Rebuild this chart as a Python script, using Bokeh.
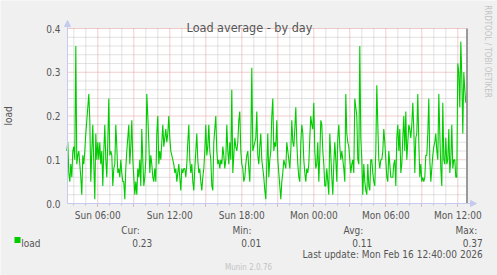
import math
from bokeh.plotting import figure
from bokeh.models import Range1d, FixedTicker, Label, Arrow, NormalHead, LinearAxis
from bokeh.embed import file_html
from bokeh.resources import INLINE

# ---------------- data (5-minute load averages) ----------------
load_sun_night = [0.12, 0.14, 0.07, 0.05, 0.09, 0.06, 0.12, 0.13, 0.10, 0.36,
                  0.09, 0.11, 0.12, 0.09, 0.06, 0.02, 0.11, 0.09, 0.12, 0.16,
                  0.19, 0.22, 0.25, 0.19, 0.05, 0.12, 0.18, 0.09, 0.01, 0.16,
                  0.10, 0.14, 0.10, 0.14, 0.09, 0.12, 0.04, 0.12, 0.18, 0.10,
                  0.06, 0.14, 0.24, 0.11, 0.12, 0.11, 0.04, 0.08, 0.09, 0.18,
                  0.13, 0.07, 0.08, 0.06, 0.10, 0.07, 0.05, 0.05, 0.01, 0.08,
                  0.12, 0.15, 0.18, 0.09, 0.13, 0.19, 0.10, 0.06, 0.02, 0.05,
                  0.02, 0.08, 0.06, 0.10, 0.04, 0.17, 0.10, 0.04, 0.06, 0.10,
                  0.25, 0.20]
load_sun_day = [0.14, 0.07, 0.11, 0.09, 0.06, 0.05, 0.08, 0.05, 0.16, 0.20,
                0.09, 0.12, 0.10, 0.14, 0.18, 0.13, 0.15, 0.17, 0.14, 0.16,
                0.20, 0.15, 0.12, 0.11, 0.10, 0.09, 0.07, 0.08, 0.05, 0.07,
                0.09, 0.06, 0.03, 0.08, 0.07, 0.08, 0.08, 0.06, 0.09, 0.14,
                0.18, 0.10, 0.07, 0.09, 0.05, 0.03, 0.08, 0.12, 0.16, 0.10,
                0.07, 0.08, 0.05, 0.03, 0.06, 0.08, 0.12, 0.18, 0.11, 0.13,
                0.18, 0.12, 0.10, 0.04, 0.03, 0.14, 0.17, 0.20, 0.12, 0.09,
                0.10, 0.08, 0.10, 0.09, 0.13, 0.11, 0.08, 0.10, 0.18, 0.12,
                0.09, 0.14]
load_sun_evening = [0.10, 0.26, 0.07, 0.11, 0.15, 0.13, 0.12, 0.14, 0.19, 0.21,
                    0.12, 0.09, 0.08, 0.05, 0.06, 0.09, 0.11, 0.12, 0.08, 0.05,
                    0.14, 0.31, 0.12, 0.13, 0.14, 0.15, 0.21, 0.11, 0.09, 0.13,
                    0.16, 0.10, 0.08, 0.06, 0.03, 0.01, 0.09, 0.16, 0.06, 0.10,
                    0.12, 0.20, 0.24, 0.12, 0.14, 0.13, 0.19, 0.10, 0.07, 0.04,
                    0.01, 0.05, 0.07, 0.10, 0.09, 0.08, 0.14, 0.12, 0.10, 0.08,
                    0.12, 0.19, 0.14, 0.13, 0.17, 0.22, 0.14, 0.09, 0.06, 0.05,
                    0.14, 0.18, 0.16, 0.10, 0.07, 0.05, 0.08, 0.07, 0.09, 0.15,
                    0.20, 0.18]
load_mon_night = [0.17, 0.23, 0.12, 0.08, 0.09, 0.14, 0.05, 0.11, 0.19, 0.18,
                  0.12, 0.09, 0.04, 0.04, 0.08, 0.05, 0.02, 0.16, 0.11, 0.06,
                  0.02, 0.09, 0.14, 0.10, 0.05, 0.15, 0.18, 0.13, 0.10, 0.12,
                  0.10, 0.08, 0.05, 0.25, 0.16, 0.14, 0.13, 0.10, 0.07, 0.09,
                  0.10, 0.07, 0.24, 0.22, 0.20, 0.10, 0.09, 0.36, 0.15, 0.10,
                  0.02, 0.09, 0.05, 0.03, 0.02, 0.09, 0.04, 0.03, 0.10, 0.10,
                  0.07, 0.05, 0.04, 0.12, 0.27, 0.18, 0.10, 0.08, 0.10, 0.10,
                  0.12, 0.17, 0.14, 0.10, 0.06, 0.05, 0.12, 0.09, 0.06, 0.06,
                  0.06, 0.09]
load_mon_morning = [0.10, 0.04, 0.15, 0.18, 0.12, 0.17, 0.07, 0.09, 0.15, 0.20,
                    0.12, 0.21, 0.10, 0.14, 0.18, 0.17, 0.15, 0.18, 0.23, 0.17,
                    0.07, 0.15, 0.16, 0.25, 0.14, 0.06, 0.09, 0.05, 0.06, 0.05,
                    0.06, 0.11, 0.11, 0.16, 0.24, 0.10, 0.05, 0.08, 0.11, 0.13,
                    0.14, 0.16, 0.12, 0.10, 0.25, 0.16, 0.08, 0.04, 0.23, 0.10,
                    0.09, 0.15, 0.09, 0.10, 0.17, 0.07, 0.10, 0.18, 0.08, 0.10,
                    0.10, 0.06, 0.06, 0.32, 0.30, 0.22, 0.37, 0.29, 0.16, 0.30,
                    0.26, 0.23]

step_minutes = 5
last_update_hour = 36 + 40 / 60          # Mon 12:40 in hours since Sun 00:00

x_tick_hours = [6, 12, 18, 24, 30, 36]
x_tick_labels = ["Sun 06:00", "Sun 12:00", "Sun 18:00", "Mon 00:00", "Mon 06:00", "Mon 12:00"]
y_tick_values = [0.0, 0.1, 0.2, 0.3, 0.4]
y_tick_labels = ["0.0", "0.1", "0.2", "0.3", "0.4"]

series_name = "load"
stat_names = ["Cur:", "Min:", "Avg:", "Max:"]
stat_values = ["0.23", "0.01", "0.11", "0.37"]
title_text = "Load average - by day"
y_label_text = "load"
last_update_text = "Last update: Mon Feb 16 12:40:00 2026"
footer_text = "Munin 2.0.76"
side_text = "RRDTOOL / TOBI OETIKER"

load = load_sun_night + load_sun_day + load_sun_evening + load_mon_night + load_mon_morning
n = len(load)
hours = [last_update_hour - step_minutes / 60 * (n - 1 - i) for i in range(n)]

# ---------------- layout ----------------
W, H = 497, 275
FL, FT, FW, FH = 67, 28, 400, 175          # plotting area inside the canvas
PX_PER_HOUR = 12.0
X0 = 6 - (97.3 - FL) / PX_PER_HOUR         # hour at left edge of plotting area
X1 = X0 + FW / PX_PER_HOUR
Y0, Y1 = 0.0, 0.4

def dx(px):
    return X0 + (px - FL) / PX_PER_HOUR

def dy(py):
    return Y0 + (FT + FH - py) * (Y1 - Y0) / FH

FONT = "DejaVu Sans Condensed"
TXT = "#555555"
LIGHT = "#C4C4C4"
AXIS = "#C6CAF0"
MGRID = "#E29C9C"
GRID = "#C4C4C4"
GREEN = "#00CC00"

# the frame covers the whole canvas; ranges are extended so the data area sits where munin puts it
p = figure(width=W, height=H, output_backend="svg", toolbar_location=None, title=None,
           x_range=Range1d(dx(0), dx(W)), y_range=Range1d(dy(H), dy(0)),
           x_axis_location=None, y_axis_location=None,
           min_border=0, min_border_left=0, min_border_right=0,
           min_border_top=0, min_border_bottom=0,
           background_fill_color="#F0F0F0", border_fill_color="#F0F0F0",
           outline_line_color=None)
for g in p.grid:
    g.visible = False

# white canvas
p.quad(left=[X0], right=[X1], bottom=[Y0], top=[Y1], fill_color="#FFFFFF", line_color=None)

# grids (drawn only inside the data area)
minor_y = [round(0.02 * k, 2) for k in range(1, 20) if k % 5 != 0]
major_y = [0.1, 0.2, 0.3, 0.4]
minor_x = [h for h in range(4, 37) if h % 3 != 0]
major_x = [h for h in range(6, 37, 3)]
p.segment(x0=[X0] * len(minor_y), x1=[X1] * len(minor_y), y0=minor_y, y1=minor_y,
          line_color=GRID, line_width=1, line_dash="1 1")
p.segment(x0=minor_x, x1=minor_x, y0=[Y0] * len(minor_x), y1=[Y1] * len(minor_x),
          line_color=GRID, line_width=1, line_dash="1 1")
p.segment(x0=[X0] * len(major_y), x1=[X1] * len(major_y), y0=major_y, y1=major_y,
          line_color=MGRID, line_width=1, line_dash="1 1")
p.segment(x0=major_x, x1=major_x, y0=[Y0] * len(major_x), y1=[Y1] * len(major_x),
          line_color=MGRID, line_width=1, line_dash="1 1")

# x axis at load = 0
xa = LinearAxis(fixed_location=Y0, bounds=(X0, X1))
xa.ticker = FixedTicker(ticks=major_x, minor_ticks=list(range(4, 37)))
overrides = {h: "" for h in major_x}
for h, lab_ in zip(x_tick_hours, x_tick_labels):
    overrides[h] = lab_
xa.major_label_overrides = overrides
xa.axis_line_color = None
xa.major_tick_line_color = MGRID
xa.major_tick_in = 0
xa.major_tick_out = 3
xa.minor_tick_line_color = GRID
xa.minor_tick_in = 0
xa.minor_tick_out = 2
xa.major_label_standoff = 3
xa.major_label_text_font = FONT
xa.major_label_text_font_size = "10px"
xa.major_label_text_color = TXT
p.add_layout(xa, "below")

# y axis at the left edge of the data area
ya = LinearAxis(fixed_location=X0, bounds=(Y0, Y1))
ya.ticker = FixedTicker(ticks=y_tick_values, minor_ticks=[])
ya.major_label_overrides = {v: s for v, s in zip(y_tick_values, y_tick_labels)}
ya.axis_line_color = None
ya.major_tick_line_color = None
ya.minor_tick_line_color = None
ya.major_tick_out = 0
ya.major_tick_in = 0
ya.major_label_standoff = 7
ya.major_label_text_font = FONT
ya.major_label_text_font_size = "10px"
ya.major_label_text_color = TXT
p.add_layout(ya, "left")

# data line
p.line(hours, load, line_color=GREEN, line_width=1.1)

# right-hand rule line
p.segment(x0=[dx(466.5)], x1=[dx(466.5)], y0=[Y0], y1=[Y1], line_color="#9A9A9A", line_width=2)

# axis arrows
p.add_layout(Arrow(x_start=X0, y_start=Y0, x_end=X0, y_end=dy(20),
                   line_color=AXIS, line_width=1,
                   end=NormalHead(size=6, fill_color=AXIS, line_color=AXIS)))
p.add_layout(Arrow(x_start=X0, y_start=Y0, x_end=dx(476), y_end=Y0,
                   line_color=AXIS, line_width=1,
                   end=NormalHead(size=6, fill_color=AXIS, line_color=AXIS)))

def lab(px, py, text, size="10px", color=TXT, align="left", baseline="alphabetic", angle=0.0):
    p.add_layout(Label(x=dx(px), y=dy(py), text=text, text_font=FONT, text_font_size=size,
                       text_color=color, text_align=align, text_baseline=baseline, angle=angle))

lab(249, 26.5, title_text, size="12.5px", align="center")
lab(8, 115.5, y_label_text, align="center", baseline="middle", angle=math.pi / 2)
lab(487, 51, side_text, size="8px", color=LIGHT, align="center", baseline="middle", angle=-math.pi / 2)

# legend
p.quad(left=[dx(14)], right=[dx(20)], top=[dy(236.5)], bottom=[dy(242.5)],
       fill_color=GREEN, line_color=None)
lab(20.7, 242.7, series_name)
name_right = [139.3, 251.0, 362.7, 476.7]
value_right = [151.7, 260.7, 371.7, 482.3]
for nm, vl, nr, vr in zip(stat_names, stat_values, name_right, value_right):
    lab(nr, 230.3, nm, align="right")
    lab(vr, 242.7, vl, align="right")
lab(482.3, 254.3, last_update_text, align="right")
lab(248, 266.7, footer_text, size="8px", color=LIGHT, align="center")

open("out.html", "w").write(file_html(p, INLINE))
